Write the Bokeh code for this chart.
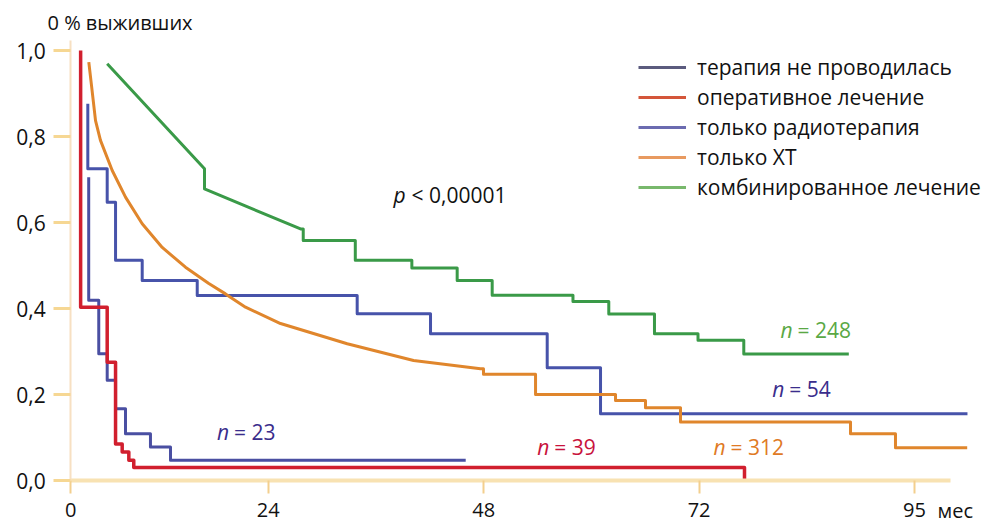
from bokeh.plotting import figure
from bokeh.models import Range1d, FixedTicker, Legend, LegendItem, Label
from bokeh.embed import file_html
from bokeh.resources import INLINE

# ---------------- data ----------------
x_tick_pos = [2, 24, 48, 72, 96]
x_tick_labels = ["0", "24", "48", "72", "95"]
y_ticks = [0.0, 0.2, 0.4, 0.6, 0.8, 1.0]
y_tick_labels = ["0,0", "0,2", "0,4", "0,6", "0,8", "1,0"]

series_names = ["терапия не проводилась", "оперативное лечение", "только радиотерапия",
                "только ХТ", "комбинированное лечение"]

# терапия не проводилась (n = 23)
none_start = (4.0, 0.705)
none_t = [4.0, 5.12, 6.06, 6.99, 8.1, 10.88, 13.11]
none_s = [0.419, 0.295, 0.233, 0.167, 0.109, 0.078, 0.047]
none_end = 46.0

# оперативное лечение (n = 39)
surg_start = (3.1, 1.0)
surg_t = [3.1, 6.06, 6.99, 7.73, 8.47, 9.02, 77.06]
surg_s = [0.403, 0.275, 0.085, 0.066, 0.047, 0.03, 0.0]
surg_end = 77.06

# только радиотерапия (n = 54)
radio_start = (3.9, 0.876)
radio_t = [3.9, 6.06, 6.99, 9.96, 16.09, 33.91, 42.08, 55.08, 61.02]
radio_s = [0.725, 0.647, 0.512, 0.465, 0.430, 0.388, 0.341, 0.262, 0.155]
radio_end = 101.9

# только ХТ (n = 312): smooth part, then steps
chemo_curve_m = [4.01, 4.31, 4.76, 5.31, 6.62, 8.10, 9.96, 12.19, 14.78, 17.38, 19.24,
                 21.47, 25.37, 32.80, 40.19, 47.65]
chemo_curve_s = [0.973, 0.919, 0.837, 0.791, 0.721, 0.659, 0.597, 0.542, 0.496, 0.458, 0.434,
                 0.403, 0.365, 0.318, 0.279, 0.260]
chemo_t = [47.98, 53.78, 62.69, 66.03, 69.93, 88.87, 93.88]
chemo_s = [0.247, 0.200, 0.186, 0.169, 0.136, 0.109, 0.076]
chemo_end = 101.87

# комбинированное лечение (n = 248): sloped part, then steps
comb_curve_m = [6.06, 16.9, 16.9, 27.6]
comb_curve_s = [0.969, 0.725, 0.678, 0.585]
comb_t = [27.9, 33.7, 40.0, 45.05, 48.95, 57.95, 61.94, 67.03, 71.88, 76.98]
comb_s = [0.558, 0.512, 0.494, 0.465, 0.431, 0.416, 0.387, 0.341, 0.326, 0.294]
comb_end = 88.68

n_labels = ["23", "39", "54", "312", "248"]
p_text = "< 0,00001"

# ---------------- helpers ----------------
def steps(x0, y0, t, s, end):
    xs, ys = [x0], [y0]
    prev = y0
    for ti, si in zip(t, s):
        xs += [ti, ti]
        ys += [prev, si]
        prev = si
    xs.append(end)
    ys.append(prev)
    return xs, ys

FONT = "Open Sans"

p = figure(width=986, height=525, output_backend="svg", toolbar_location=None,
           x_range=Range1d(-5.827, 104.02), y_range=Range1d(-0.10465, 1.11628),
           min_border_left=0, min_border_right=0, min_border_top=0, min_border_bottom=0)
p.outline_line_color = None
p.grid.visible = False
p.background_fill_color = "white"
p.border_fill_color = "white"

# axes (drawn at the data origin, so the plot area covers the whole canvas)
xa = p.xaxis[0]
xa.fixed_location = 0
xa.ticker = FixedTicker(ticks=x_tick_pos)
xa.major_label_overrides = {k: v for k, v in zip(x_tick_pos, x_tick_labels)}
xa.bounds = (x_tick_pos[0], 100)
xa.axis_line_color = "#f8e2b2"
xa.axis_line_width = 4
xa.major_tick_line_color = "#f3cf8e"
xa.major_tick_line_width = 2
xa.major_tick_in = 0
xa.major_tick_out = 13
xa.minor_tick_line_color = None
xa.major_label_standoff = 9
xa.major_label_text_font = FONT
xa.major_label_text_font_size = "20px"
xa.major_label_text_color = "#111111"

ya = p.yaxis[0]
ya.fixed_location = x_tick_pos[0]
ya.ticker = FixedTicker(ticks=y_ticks)
ya.major_label_overrides = {k: v for k, v in zip(y_ticks, y_tick_labels)}
ya.bounds = (0, 1.023)
ya.axis_line_color = "#f7e0c2"
ya.axis_line_width = 2
ya.major_tick_line_color = "#f6d793"
ya.major_tick_line_width = 3
ya.major_tick_in = 0
ya.major_tick_out = 17
ya.minor_tick_line_color = None
ya.major_label_standoff = 8
ya.major_label_text_font = FONT
ya.major_label_text_font_size = "21px"
ya.major_label_text_color = "#111111"

# curves
line_w = 3
nx, ny = steps(none_start[0], none_start[1], none_t, none_s, none_end)
p.line(nx, ny, line_color="#4a4fa2", line_width=line_w, line_join="round")
sx, sy = steps(surg_start[0], surg_start[1], surg_t, surg_s, surg_end)
p.line(sx, sy, line_color="#d11f2e", line_width=line_w + 0.5, line_join="round")
rx, ry = steps(radio_start[0], radio_start[1], radio_t, radio_s, radio_end)
p.line(rx, ry, line_color="#4753aa", line_width=line_w, line_join="round")
cx, cy = steps(chemo_curve_m[-1], chemo_curve_s[-1], chemo_t, chemo_s, chemo_end)
p.line(chemo_curve_m + cx[1:], chemo_curve_s + cy[1:], line_color="#e0862c",
       line_width=line_w, line_join="round")
gx, gy = steps(comb_curve_m[-1], comb_curve_s[-1], comb_t, comb_s, comb_end)
p.line(comb_curve_m + gx[1:], comb_curve_s + gy[1:], line_color="#3a9a48",
       line_width=line_w, line_join="round")

# legend (separate swatches, colours as in the key)
legend_colors = ["#5b5b7e", "#d4563a", "#6b6bb0", "#e89a60", "#78b86c"]
items = []
for name, col in zip(series_names, legend_colors):
    r = p.line([float("nan")], [float("nan")], line_color=col, line_width=3)
    items.append(LegendItem(label=name, renderers=[r]))
legend = Legend(items=items, location=(638, 323), orientation="vertical",
                glyph_width=48, glyph_height=30, label_height=30, spacing=0,
                padding=0, margin=0, label_standoff=11,
                label_text_font=FONT, label_text_font_size="21px",
                label_text_color="#111111", background_fill_alpha=0,
                border_line_alpha=0)
p.add_layout(legend, "center")

# text annotations
def mixed(x, y, italic, rest, color, off, size="21px"):
    p.add_layout(Label(x=x, y=y, text=italic, text_font=FONT, text_font_style="italic",
                       text_font_size=size, text_color=color, text_baseline="middle"))
    p.add_layout(Label(x=x, y=y, x_offset=off, text=rest, text_font=FONT,
                       text_font_size=size, text_color=color, text_baseline="middle"))

mixed(18.3, 0.112, "n", "= " + n_labels[0], "#3a2d8c", 17)
mixed(53.97, 0.079, "n", "= " + n_labels[1], "#c8123c", 17)
mixed(80.15, 0.212, "n", "= " + n_labels[2], "#3a2d8c", 17)
mixed(73.6, 0.079, "n", "= " + n_labels[3], "#e07a25", 17)
mixed(81.07, 0.349, "n", "= " + n_labels[4], "#5aa845", 17)
mixed(37.96, 0.663, "p", p_text, "#111111", 18)

p.add_layout(Label(x=-0.59, y=1.065, text="0 % выживших", text_font=FONT,
                   text_font_size="20px", text_color="#111111", text_baseline="middle"))
p.add_layout(Label(x=98.56, y=-0.0698, text="мес", text_font=FONT,
                   text_font_size="20px", text_color="#111111", text_baseline="middle"))

open("out.html", "w").write(file_html(p, INLINE))
